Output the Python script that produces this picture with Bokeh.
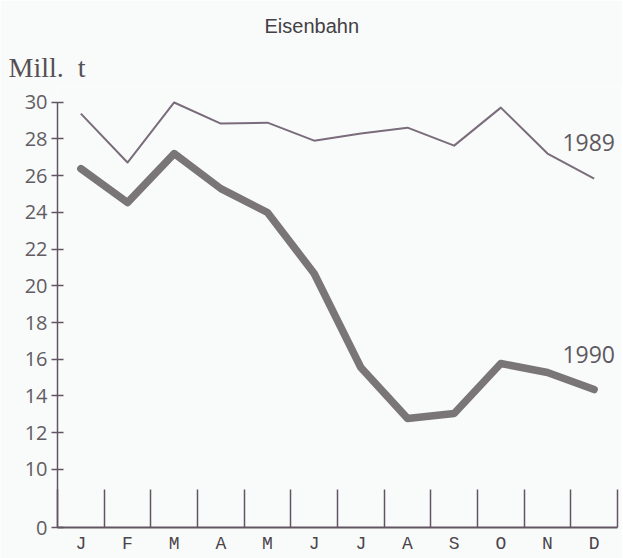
from bokeh.plotting import figure
from bokeh.models import FixedTicker, Range1d, Label, LinearAxis, Title
from bokeh.embed import file_html
from bokeh.resources import INLINE

# ---- data ----
months = ["J", "F", "M", "A", "M", "J", "J", "A", "S", "O", "N", "D"]
month_idx = [1, 2, 3, 4, 5, 6, 7, 8, 9, 10, 11, 12]
y1989 = [29.37, 26.71, 29.98, 28.83, 28.88, 27.90, 28.29, 28.61, 27.63, 29.70, 27.20, 25.84]
y1990 = [26.38, 24.53, 27.20, 25.29, 23.99, 20.67, 15.55, 12.78, 13.05, 15.77, 15.28, 14.35]
y_ticks = [10, 12, 14, 16, 18, 20, 22, 24, 26, 28, 30]
series_labels = ["1989", "1990"]
title_text = "Eisenbahn"
unit_text = "Mill.\u00a0\u00a0t"

BG = "#f9fbfb"
AXIS = "#625462"
TXT = "#5e585e"

y_base = 6.84   # position of the broken-axis "0" baseline
p = figure(width=622, height=558, output_backend="svg", toolbar_location=None,
           x_range=Range1d(0.5, 12.586), y_range=Range1d(y_base, 30.85),
           min_border_left=57, min_border_right=1, min_border_top=86, min_border_bottom=31,
           x_axis_type=None, y_axis_type=None, title=None)
p.background_fill_color = BG
p.border_fill_color = BG
p.outline_line_color = None
p.grid.visible = False

# titles above the frame
t1 = Title(text=unit_text, align="left", offset=-49, standoff=7,
           text_font="Liberation Serif", text_font_size="28px", text_font_style="normal",
           text_color="#555055")
t2 = Title(text=title_text, align="left", offset=207, standoff=19,
           text_font="Liberation Sans", text_font_size="20px", text_font_style="normal",
           text_color="#444044")
p.add_layout(t1, "above")
p.add_layout(t2, "above")

# y axis (0 + 10..30), broken between 0 and 10
ya = LinearAxis(ticker=FixedTicker(ticks=[y_base] + y_ticks, minor_ticks=[]), bounds=(y_base, 30))
ya.major_label_overrides = {y_base: "0"}
ya.axis_line_color = AXIS
ya.axis_line_width = 1.5
ya.major_tick_line_color = AXIS
ya.major_tick_line_width = 1.5
ya.major_tick_in = 6
ya.major_tick_out = 6
ya.minor_tick_line_color = None
ya.major_label_standoff = 4
ya.major_label_text_font = "Open Sans"
ya.major_label_text_font_size = "20px"
ya.major_label_text_color = "#625d62"
p.add_layout(ya, "left")

# x axis: baseline with month-boundary ticks and month letters
xa = LinearAxis(ticker=FixedTicker(ticks=month_idx,
                                   minor_ticks=[m - 0.5 for m in month_idx] + [12.5]),
                bounds=(0.5, 12.5))
xa.axis_line_color = AXIS
xa.axis_line_width = 2
xa.major_tick_line_color = None
xa.minor_tick_line_color = AXIS
xa.minor_tick_line_width = 1.5
xa.minor_tick_in = 38
xa.minor_tick_out = 0
xa.major_tick_in = 0
xa.major_tick_out = 0
xa.major_label_standoff = 6
xa.major_label_overrides = {m: lab for m, lab in zip(month_idx, months)}
xa.major_label_text_font = "Liberation Mono"
xa.major_label_text_font_size = "18px"
xa.major_label_text_color = "#4a444a"
p.add_layout(xa, "below")

# lines
p.line(month_idx, y1989, line_width=2, line_color="#7a6c7a", line_join="round")
p.line(month_idx, y1990, line_width=7.5, line_color="#7a7678", line_join="round", line_cap="round")

# series labels
p.add_layout(Label(x=11.32, y=27.78, text=series_labels[0], text_align="left", text_baseline="middle",
                   text_font="Open Sans", text_font_size="23px", text_color=TXT))
p.add_layout(Label(x=11.32, y=16.27, text=series_labels[1], text_align="left", text_baseline="middle",
                   text_font="Open Sans", text_font_size="23px", text_color=TXT))

open("out.html", "w").write(file_html(p, INLINE))
